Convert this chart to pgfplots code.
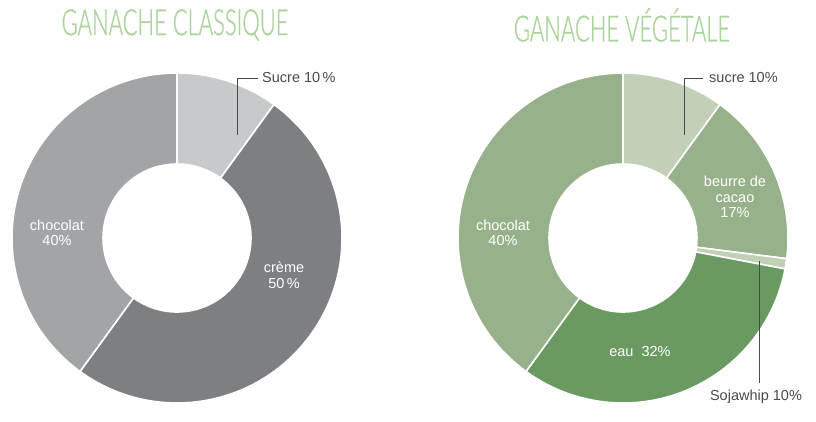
\documentclass[border=0pt]{standalone}
\usepackage{pgfplots}
\pgfplotsset{compat=1.18}
\usepackage{fontspec}
\setmainfont{Liberation Sans}
\newfontfamily\titlefont{Lato Light}[FakeStretch=0.61, FakeBold=0.7]

\definecolor{titlegreen}{HTML}{AAD49B}
\definecolor{labelgray}{HTML}{4A4A4A}
\definecolor{gSucre}{HTML}{C8C9CB}
\definecolor{gCreme}{HTML}{7E7F83}
\definecolor{gChoco}{HTML}{A3A4A8}
\definecolor{vSucre}{HTML}{C1D0B6}
\definecolor{vBeurre}{HTML}{97B28A}
\definecolor{vSoja}{HTML}{C1D0B6}
\definecolor{vEau}{HTML}{6A9A62}
\definecolor{vChoco}{HTML}{97B28A}

% donut: centre x, centre y, list of percent/colour, clockwise from the top
\newcommand{\donut}[3]{%
  \xdef\acc{90}%
  \foreach \v/\c in {#3}{%
    \pgfmathsetmacro\b{\acc-3.6*\v}%
    \pgfmathsetmacro\xa{#1+165*cos(\acc)}%
    \pgfmathsetmacro\ya{#2+165*sin(\acc)}%
    \pgfmathsetmacro\xb{#1+74*cos(\b)}%
    \pgfmathsetmacro\yb{#2+74*sin(\b)}%
    \edef\temp{\noexpand\filldraw[overlay, fill=\c, draw=white, line width=1.6pt, line join=round]
      (axis cs:\xa,\ya) arc[start angle=\acc, end angle=\b, radius=165pt]
      -- (axis cs:\xb,\yb) arc[start angle=\b, end angle=\acc, radius=74pt] -- cycle;}%
    \temp
    \xdef\acc{\b}%
  }%
}

\begin{document}
\begin{tikzpicture}
\begin{axis}[
    width=816pt, height=422pt, scale only axis,
    xmin=0, xmax=816, ymin=0, ymax=422,
    axis lines=none, ticks=none, clip=false,
]
    \path (rel axis cs:0,0) rectangle (rel axis cs:1,1);

    % Ganache classique
    \donut{177}{184}{10/gSucre, 50/gCreme, 40/gChoco}
    % Ganache vegetale
    \donut{623}{184}{10/vSucre, 17/vBeurre, 1/vSoja, 32/vEau, 40/vChoco}

    \node[overlay, titlegreen, font=\titlefont\fontsize{36}{36}\selectfont] at (axis cs:175,397) {GANACHE CLASSIQUE};
    \node[overlay, titlegreen, font=\titlefont\fontsize{36}{36}\selectfont] at (axis cs:622,397) {GANACHE VÉGÉTALE};

    \begin{scope}[every node/.style={overlay, font=\fontsize{14.5}{15.5}\selectfont, align=center, inner sep=0pt}]
    % left labels
    \draw[overlay, labelgray, line width=1pt] (axis cs:258,343) -- (axis cs:237,343) -- (axis cs:237,287);
    \node[labelgray, anchor=west] at (axis cs:262,344) {Sucre 10\,\%};
    \node[white] at (axis cs:57,189) {chocolat\\40\%};
    \node[white] at (axis cs:284,147) {crème\\50\,\%};
    % right labels
    \draw[overlay, labelgray, line width=1pt] (axis cs:703,343) -- (axis cs:684,343) -- (axis cs:684,287);
    \node[labelgray, anchor=west] at (axis cs:709,344) {sucre 10\%};
    \node[white] at (axis cs:735,225) {beurre de\\cacao\\17\%};
    \node[white] at (axis cs:503,189) {chocolat\\40\%};
    \node[white] at (axis cs:640,70) {eau\ \ 32\%};
    \draw[overlay, labelgray, line width=1pt] (axis cs:759,161) -- (axis cs:759,39);
    \node[labelgray] at (axis cs:756,25) {Sojawhip 10\%};
    \end{scope}
\end{axis}
\end{tikzpicture}
\end{document}
